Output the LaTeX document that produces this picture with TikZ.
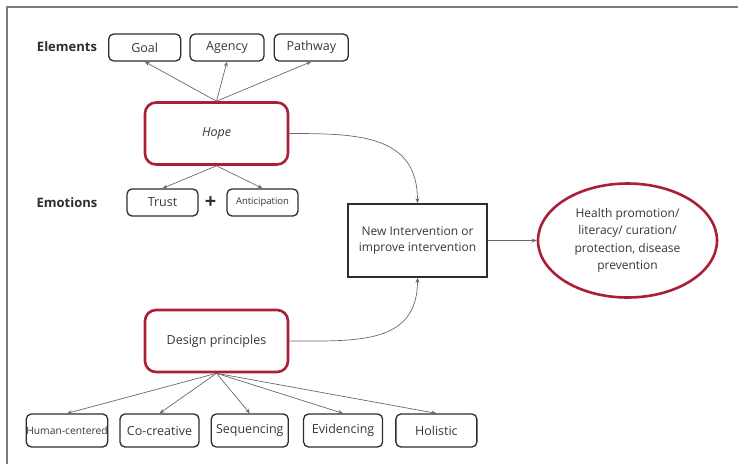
\documentclass[tikz,border=0pt]{standalone}
\usepackage{fontspec}
\setmainfont{Open Sans}
\usetikzlibrary{positioning, shapes.geometric, arrows.meta}
\definecolor{hopeRed}{RGB}{170,30,55}
\definecolor{boxGray}{RGB}{45,45,45}
\definecolor{lineGray}{RGB}{105,105,105}
\definecolor{textGray}{RGB}{55,55,55}
\definecolor{frameGray}{RGB}{125,125,115}

\begin{document}
\begin{tikzpicture}[
    x=1pt, y=1pt,
    % Styles
    elembox/.style={
        draw=boxGray,
        line width=1.3pt,
        rounded corners=5pt,
        align=center,
        text=textGray,
        font=\fontsize{12.5}{15}\selectfont,
        inner sep=0pt,
        minimum height=27pt
    },
    redbox/.style={
        draw=hopeRed,
        line width=2.6pt,
        rounded corners=11pt,
        align=center,
        text=textGray,
        font=\fontsize{12.5}{15}\selectfont,
        minimum width=143pt,
        minimum height=62pt
    },
    intervbox/.style={
        draw=boxGray,
        line width=1.6pt,
        align=center,
        text=textGray,
        font=\fontsize{12}{16.5}\selectfont,
        minimum width=139pt,
        minimum height=73pt
    },
    outcome/.style={
        ellipse,
        draw=hopeRed,
        line width=2.6pt,
        align=center,
        text=textGray,
        font=\fontsize{12}{17.3}\selectfont,
        minimum width=179pt,
        minimum height=114pt,
        inner sep=0pt
    },
    rowlabel/.style={font=\fontsize{13}{15}\selectfont\bfseries, text=boxGray},
    arrow/.style={-{Stealth[length=5pt,width=4pt]}, line width=0.7pt, color=lineGray}
]
    \useasboundingbox (0,0) rectangle (738,-464);
    \draw[frameGray, line width=1.6pt] (7,-464) -- (7,-7) -- (738,-7);

    % ---------------------------------------------------------
    % 1. HOPE AND ITS ELEMENTS
    % ---------------------------------------------------------
    \node[redbox] (hope) at (216.5,-133.5) {\itshape Hope};

    \node[elembox, minimum width=74pt] (agency) at (227,-47.5) {Agency};
    \node[elembox, minimum width=72pt, left=8pt of agency] (goal) {Goal};
    \node[elembox, minimum width=74pt, right=9pt of agency] (pathway) {Pathway};
    \node[rowlabel] (elements) at (67,-47) {Elements};

    % ---------------------------------------------------------
    % 2. EMOTIONS
    % ---------------------------------------------------------
    \node[elembox, minimum width=71pt] (trust) at (162.5,-202.5) {Trust};
    \node[font=\fontsize{20}{20}\selectfont\bfseries, text=boxGray, right=6pt of trust, inner sep=0pt] (plus) {+};
    \node[elembox, minimum width=71pt, font=\fontsize{9.5}{11}\selectfont] (anticip) at (262.5,-202.5) {Anticipation};
    \node[rowlabel] (emotions) at (67,-203) {Emotions};

    % ---------------------------------------------------------
    % 3. INTERVENTION AND OUTCOME
    % ---------------------------------------------------------
    \node[intervbox] (interv) at (417.5,-240.5) {New Intervention or\\improve intervention};
    \node[outcome] (health) at (627.5,-240.5) {Health promotion/\\literacy/ curation/\\protection, disease\\prevention};

    % ---------------------------------------------------------
    % 4. DESIGN PRINCIPLES
    % ---------------------------------------------------------
    \node[redbox] (design) at (216.5,-341) {Design principles};

    \node[elembox, minimum width=80pt, minimum height=33pt, font=\fontsize{10.3}{12}\selectfont] (human) at (67,-430.5) {Human-centered};
    \node[elembox, minimum width=79pt, minimum height=33pt, right=11pt of human] (cocreat) {Co-creative};
    \node[elembox, minimum width=77pt, minimum height=33pt, right=11pt of cocreat] (sequenc) {Sequencing};
    \node[elembox, minimum width=79pt, minimum height=33pt, right=14pt of sequenc] (evidenc) {Evidencing};
    \node[elembox, minimum width=81pt, minimum height=33pt, right=12pt of evidenc] (holist) {Holistic};

    % ---------------------------------------------------------
    % CONNECTIONS
    % ---------------------------------------------------------
    \draw[arrow] (hope.north) -- (goal.south);
    \draw[arrow] (hope.north) -- (agency.south);
    \draw[arrow] (hope.north) -- (pathway.south);

    \draw[arrow] (hope.south) -- (trust.north);
    \draw[arrow] (hope.south) -- (anticip.north);

    \draw[arrow] (hope.east) to[out=0, in=90, looseness=1.2] (interv.north);
    \draw[arrow] (design.east) to[out=0, in=-90, looseness=1.2] (interv.south);
    \draw[arrow] (interv.east) -- (health.west);

    \foreach \leaf in {human, cocreat, sequenc, evidenc, holist}
        \draw[arrow] (design.south) -- (\leaf.north);

\end{tikzpicture}
\end{document}
